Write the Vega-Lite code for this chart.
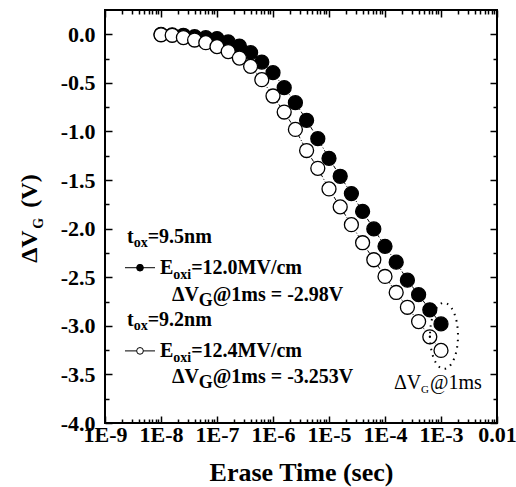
{
  "$schema": "https://vega.github.io/schema/vega-lite/v6.json",
  "width": 392,
  "height": 413,
  "autosize": {"type": "none"},
  "padding": {"left": 105, "top": 10, "right": 19, "bottom": 64},
  "background": "white",
  "config": {
    "view": {"stroke": "black", "strokeWidth": 2},
    "font": "Liberation Serif",
    "axis": {
      "domain": false, "grid": false, "tickColor": "black", "tickWidth": 1.5,
      "labelFont": "Liberation Serif", "labelFontSize": 22, "labelFontWeight": "bold",
      "labelColor": "black", "labelOverlap": false, "labelFlush": false,
      "titleFont": "Liberation Serif", "titleColor": "black"
    }
  },
  "datasets": {
    "series": [
      {"t": 1e-8, "v": 0.0, "s": "filled"},
      {"t": 1.585e-8, "v": -0.005, "s": "filled"},
      {"t": 2.512e-8, "v": -0.01, "s": "filled"},
      {"t": 3.981e-8, "v": -0.025, "s": "filled"},
      {"t": 6.31e-8, "v": -0.035, "s": "filled"},
      {"t": 1e-7, "v": -0.044, "s": "filled"},
      {"t": 1.585e-7, "v": -0.079, "s": "filled"},
      {"t": 2.512e-7, "v": -0.121, "s": "filled"},
      {"t": 3.981e-7, "v": -0.189, "s": "filled"},
      {"t": 6.31e-7, "v": -0.286, "s": "filled"},
      {"t": 1e-6, "v": -0.395, "s": "filled"},
      {"t": 1.585e-6, "v": -0.549, "s": "filled"},
      {"t": 2.512e-6, "v": -0.704, "s": "filled"},
      {"t": 3.981e-6, "v": -0.885, "s": "filled"},
      {"t": 6.31e-6, "v": -1.074, "s": "filled"},
      {"t": 1e-5, "v": -1.276, "s": "filled"},
      {"t": 1.585e-5, "v": -1.461, "s": "filled"},
      {"t": 2.512e-5, "v": -1.639, "s": "filled"},
      {"t": 3.981e-5, "v": -1.823, "s": "filled"},
      {"t": 6.31e-5, "v": -2.003, "s": "filled"},
      {"t": 1e-4, "v": -2.182, "s": "filled"},
      {"t": 1.585e-4, "v": -2.345, "s": "filled"},
      {"t": 2.512e-4, "v": -2.53, "s": "filled"},
      {"t": 3.981e-4, "v": -2.68, "s": "filled"},
      {"t": 6.31e-4, "v": -2.835, "s": "filled"},
      {"t": 1e-3, "v": -2.98, "s": "filled"},
      {"t": 1e-8, "v": -0.005, "s": "open"},
      {"t": 1.585e-8, "v": -0.01, "s": "open"},
      {"t": 2.512e-8, "v": -0.034, "s": "open"},
      {"t": 3.981e-8, "v": -0.059, "s": "open"},
      {"t": 6.31e-8, "v": -0.086, "s": "open"},
      {"t": 1e-7, "v": -0.127, "s": "open"},
      {"t": 1.585e-7, "v": -0.178, "s": "open"},
      {"t": 2.512e-7, "v": -0.245, "s": "open"},
      {"t": 3.981e-7, "v": -0.33, "s": "open"},
      {"t": 6.31e-7, "v": -0.467, "s": "open"},
      {"t": 1e-6, "v": -0.635, "s": "open"},
      {"t": 1.585e-6, "v": -0.8, "s": "open"},
      {"t": 2.512e-6, "v": -0.979, "s": "open"},
      {"t": 3.981e-6, "v": -1.196, "s": "open"},
      {"t": 6.31e-6, "v": -1.379, "s": "open"},
      {"t": 1e-5, "v": -1.591, "s": "open"},
      {"t": 1.585e-5, "v": -1.776, "s": "open"},
      {"t": 2.512e-5, "v": -1.959, "s": "open"},
      {"t": 3.981e-5, "v": -2.145, "s": "open"},
      {"t": 6.31e-5, "v": -2.32, "s": "open"},
      {"t": 1e-4, "v": -2.492, "s": "open"},
      {"t": 1.585e-4, "v": -2.657, "s": "open"},
      {"t": 2.512e-4, "v": -2.809, "s": "open"},
      {"t": 3.981e-4, "v": -2.956, "s": "open"},
      {"t": 6.31e-4, "v": -3.113, "s": "open"},
      {"t": 1e-3, "v": -3.253, "s": "open"}
    ],
    "ellipse": [{"t": 1.131e-3, "v": -3.103}],
    "legendLines": [
      {"t": 2.275e-9, "t2": 7.816e-9, "v": -2.402},
      {"t": 2.275e-9, "t2": 7.816e-9, "v": -3.258}
    ],
    "legendDots": [
      {"t": 4.217e-9, "v": -2.402, "s": "filled"},
      {"t": 4.217e-9, "v": -3.258, "s": "open"}
    ],
    "annMain": [
      {"t": 2.471e-9, "v": -2.082, "text": "t"},
      {"t": 5.787e-9, "v": -2.082, "text": "=9.5nm"},
      {"t": 9.6e-9, "v": -2.402, "text": "E"},
      {"t": 3.462e-8, "v": -2.402, "text": "=12.0MV/cm"},
      {"t": 1.572e-8, "v": -2.68, "text": "ΔV"},
      {"t": 8.379e-8, "v": -2.68, "text": "@1ms = -2.98V"},
      {"t": 2.471e-9, "v": -2.938, "text": "t"},
      {"t": 5.787e-9, "v": -2.938, "text": "=9.2nm"},
      {"t": 9.6e-9, "v": -3.258, "text": "E"},
      {"t": 3.462e-8, "v": -3.258, "text": "=12.4MV/cm"},
      {"t": 1.572e-8, "v": -3.526, "text": "ΔV"},
      {"t": 8.379e-8, "v": -3.526, "text": "@1ms = -3.253V"}
    ],
    "annSub": [
      {"t": 3.254e-9, "v": -2.144, "text": "ox"},
      {"t": 1.658e-8, "v": -2.474, "text": "oxi"},
      {"t": 3.254e-9, "v": -3.0, "text": "ox"},
      {"t": 1.658e-8, "v": -3.33, "text": "oxi"}
    ],
    "annG": [
      {"t": 4.712e-8, "v": -2.742, "text": "G"},
      {"t": 4.712e-8, "v": -3.588, "text": "G"}
    ],
    "annPlain": [
      {"t": 1.448e-4, "v": -3.588, "text": "ΔV"},
      {"t": 6.362e-4, "v": -3.588, "text": "@1ms"}
    ],
    "annPlainSub": [
      {"t": 4.394e-4, "v": -3.66, "text": "G"}
    ],
    "yTitle": [
      {"t": 6.105e-11, "v": -2.351, "text": "ΔV"},
      {"t": 6.105e-11, "v": -1.784, "text": "(V)"}
    ],
    "yTitleSub": [
      {"t": 7.816e-11, "v": -2.0, "text": "G"}
    ]
  },
  "layer": [
    {
      "data": {"name": "series"},
      "mark": {"type": "line", "color": "black", "strokeWidth": 1, "strokeDash": [4, 2, 1, 2]},
      "encoding": {
        "x": {
          "field": "t", "type": "quantitative",
          "scale": {"type": "log", "domain": [1e-9, 0.01], "nice": false},
          "axis": {
            "orient": "bottom",
            "values": [1e-9,2e-9,3e-9,4e-9,5e-9,6e-9,7e-9,8e-9,9e-9,1e-8,2e-8,3e-8,4e-8,5e-8,6e-8,7e-8,8e-8,9e-8,1e-7,2e-7,3e-7,4e-7,5e-7,6e-7,7e-7,8e-7,9e-7,1e-6,2e-6,3e-6,4e-6,5e-6,6e-6,7e-6,8e-6,9e-6,1e-5,2e-5,3e-5,4e-5,5e-5,6e-5,7e-5,8e-5,9e-5,1e-4,2e-4,3e-4,4e-4,5e-4,6e-4,7e-4,8e-4,9e-4,1e-3,2e-3,3e-3,4e-3,5e-3,6e-3,7e-3,8e-3,9e-3,1e-2],
            "labelExpr": "abs(log(datum.value)/LN10 - round(log(datum.value)/LN10)) < 0.001 ? (datum.value > 0.005 ? '0.01' : '1E' + round(log(datum.value)/LN10)) : ''",
            "tickSize": {"condition": {"test": "abs(log(datum.value)/LN10 - round(log(datum.value)/LN10)) < 0.001", "value": -7}, "value": -4},
            "labelPadding": 8,
            "labelBaseline": "top",
            "title": "Erase Time (sec)",
            "titleFontSize": 26,
            "titleFontWeight": "bold",
            "titlePadding": 11
          }
        },
        "y": {
          "field": "v", "type": "quantitative",
          "scale": {"domain": [-4, 0.25], "nice": false, "zero": false},
          "axis": {
            "orient": "left",
            "values": [-4,-3.75,-3.5,-3.25,-3,-2.75,-2.5,-2.25,-2,-1.75,-1.5,-1.25,-1,-0.75,-0.5,-0.25,0],
            "labelExpr": "abs(datum.value*2 - round(datum.value*2)) < 0.01 ? (datum.value < -0.01 ? '-' : '') + format(abs(datum.value), '.1f') : ''",
            "tickSize": {"condition": {"test": "abs(datum.value*2 - round(datum.value*2)) < 0.01", "value": -7}, "value": -4},
            "labelPadding": 17,
            "labelBaseline": "middle",
            "title": null
          }
        },
        "detail": {"field": "s"}
      }
    },
    {
      "data": {"name": "series"},
      "mark": {"type": "point", "filled": true, "size": 195, "stroke": "black", "strokeWidth": 1.3, "opacity": 1},
      "encoding": {
        "x": {
          "field": "t", "type": "quantitative",
          "axis": {
            "orient": "top",
            "values": [1e-9,2e-9,3e-9,4e-9,5e-9,6e-9,7e-9,8e-9,9e-9,1e-8,2e-8,3e-8,4e-8,5e-8,6e-8,7e-8,8e-8,9e-8,1e-7,2e-7,3e-7,4e-7,5e-7,6e-7,7e-7,8e-7,9e-7,1e-6,2e-6,3e-6,4e-6,5e-6,6e-6,7e-6,8e-6,9e-6,1e-5,2e-5,3e-5,4e-5,5e-5,6e-5,7e-5,8e-5,9e-5,1e-4,2e-4,3e-4,4e-4,5e-4,6e-4,7e-4,8e-4,9e-4,1e-3,2e-3,3e-3,4e-3,5e-3,6e-3,7e-3,8e-3,9e-3,1e-2],
            "labels": false,
            "tickSize": {"condition": {"test": "abs(log(datum.value)/LN10 - round(log(datum.value)/LN10)) < 0.001", "value": -7}, "value": -4},
            "title": null
          }
        },
        "y": {
          "field": "v", "type": "quantitative",
          "axis": {
            "orient": "right",
            "values": [-4,-3.75,-3.5,-3.25,-3,-2.75,-2.5,-2.25,-2,-1.75,-1.5,-1.25,-1,-0.75,-0.5,-0.25,0],
            "labels": false,
            "tickSize": {"condition": {"test": "abs(datum.value*2 - round(datum.value*2)) < 0.01", "value": -7}, "value": -4},
            "title": null
          }
        },
        "fill": {"field": "s", "type": "nominal", "scale": {"domain": ["filled", "open"], "range": ["black", "white"]}, "legend": null}
      }
    },
    {
      "data": {"name": "series"},
      "transform": [{"filter": "datum.s == 'open' && datum.t > 6e-4 && datum.t < 7e-4"}],
      "mark": {"type": "point", "filled": true, "size": 5, "color": "black", "opacity": 1},
      "encoding": {
        "x": {"field": "t", "type": "quantitative", "axis": null},
        "y": {"field": "v", "type": "quantitative", "axis": null}
      }
    },
    {
      "data": {"name": "ellipse"},
      "mark": {"type": "point", "shape": "M -0.424 0 A 0.424 1 0 1 0 0.424 0 A 0.424 1 0 1 0 -0.424 0 Z", "size": 4356, "filled": false, "stroke": "black", "strokeWidth": 2, "strokeDash": [1.5, 5], "opacity": 1},
      "encoding": {
        "x": {"field": "t", "type": "quantitative", "axis": null},
        "y": {"field": "v", "type": "quantitative", "axis": null}
      }
    },
    {
      "data": {"name": "legendLines"},
      "mark": {"type": "rule", "color": "black", "strokeWidth": 1},
      "encoding": {
        "x": {"field": "t", "type": "quantitative", "axis": null},
        "x2": {"field": "t2"},
        "y": {"field": "v", "type": "quantitative", "axis": null}
      }
    },
    {
      "data": {"name": "legendDots"},
      "mark": {"type": "point", "filled": true, "size": 45, "stroke": "black", "strokeWidth": 1, "opacity": 1},
      "encoding": {
        "x": {"field": "t", "type": "quantitative", "axis": null},
        "y": {"field": "v", "type": "quantitative", "axis": null},
        "fill": {"field": "s", "type": "nominal", "scale": {"domain": ["filled", "open"], "range": ["black", "white"]}, "legend": null}
      }
    },
    {
      "data": {"name": "annMain"},
      "mark": {"type": "text", "font": "Liberation Serif", "fontWeight": "bold", "fontSize": 20, "align": "left", "baseline": "middle", "color": "black"},
      "encoding": {
        "x": {"field": "t", "type": "quantitative", "axis": null},
        "y": {"field": "v", "type": "quantitative", "axis": null},
        "text": {"field": "text"}
      }
    },
    {
      "data": {"name": "annSub"},
      "mark": {"type": "text", "font": "Liberation Serif", "fontWeight": "bold", "fontSize": 14, "align": "left", "baseline": "middle", "color": "black"},
      "encoding": {
        "x": {"field": "t", "type": "quantitative", "axis": null},
        "y": {"field": "v", "type": "quantitative", "axis": null},
        "text": {"field": "text"}
      }
    },
    {
      "data": {"name": "annG"},
      "mark": {"type": "text", "font": "Liberation Serif", "fontWeight": "bold", "fontSize": 18, "align": "left", "baseline": "middle", "color": "black"},
      "encoding": {
        "x": {"field": "t", "type": "quantitative", "axis": null},
        "y": {"field": "v", "type": "quantitative", "axis": null},
        "text": {"field": "text"}
      }
    },
    {
      "data": {"name": "annPlain"},
      "mark": {"type": "text", "font": "Liberation Serif", "fontSize": 20, "align": "left", "baseline": "middle", "color": "black"},
      "encoding": {
        "x": {"field": "t", "type": "quantitative", "axis": null},
        "y": {"field": "v", "type": "quantitative", "axis": null},
        "text": {"field": "text"}
      }
    },
    {
      "data": {"name": "annPlainSub"},
      "mark": {"type": "text", "font": "Liberation Serif", "fontSize": 11, "align": "left", "baseline": "middle", "color": "black"},
      "encoding": {
        "x": {"field": "t", "type": "quantitative", "axis": null},
        "y": {"field": "v", "type": "quantitative", "axis": null},
        "text": {"field": "text"}
      }
    },
    {
      "data": {"name": "yTitle"},
      "mark": {"type": "text", "font": "Liberation Serif", "fontWeight": "bold", "fontSize": 24, "align": "left", "baseline": "alphabetic", "angle": 270, "color": "black"},
      "encoding": {
        "x": {"field": "t", "type": "quantitative", "axis": null},
        "y": {"field": "v", "type": "quantitative", "axis": null},
        "text": {"field": "text"}
      }
    },
    {
      "data": {"name": "yTitleSub"},
      "mark": {"type": "text", "font": "Liberation Serif", "fontWeight": "bold", "fontSize": 14, "align": "left", "baseline": "alphabetic", "angle": 270, "color": "black"},
      "encoding": {
        "x": {"field": "t", "type": "quantitative", "axis": null},
        "y": {"field": "v", "type": "quantitative", "axis": null},
        "text": {"field": "text"}
      }
    }
  ],
  "resolve": {"axis": {"x": "independent", "y": "independent"}}
}
